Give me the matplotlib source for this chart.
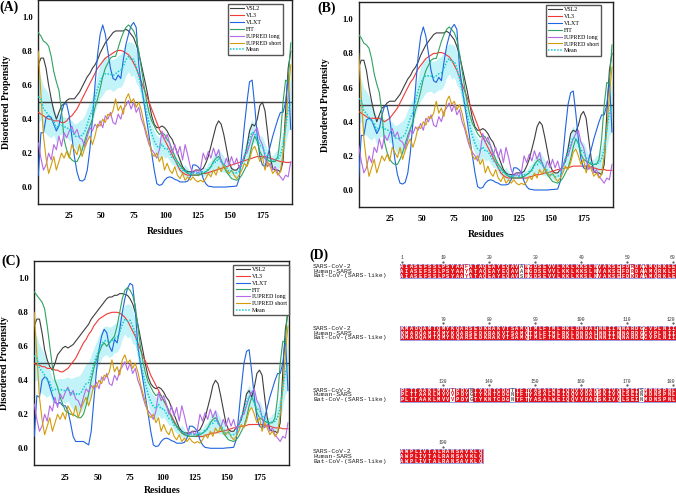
import numpy as np
import matplotlib.pyplot as plt

plt.rcParams['font.family'] = ['Liberation Serif', 'DejaVu Serif']

# residue grid (every second residue of the 198-aa protein)
residues = np.arange(1, 198, 2)

# ---- predictor outputs, panel A (SARS-CoV-2) ----
vsl2_a = [0.72, 0.76, 0.76, 0.70, 0.60, 0.52, 0.45, 0.40, 0.44, 0.48,
          0.49, 0.51, 0.52, 0.52, 0.52, 0.54, 0.56, 0.59, 0.62, 0.65,
          0.67, 0.70, 0.72, 0.75, 0.79, 0.82, 0.85, 0.87, 0.89, 0.91,
          0.92, 0.92, 0.92, 0.92, 0.93, 0.92, 0.90, 0.88, 0.84, 0.79,
          0.72, 0.65, 0.58, 0.50, 0.42, 0.37, 0.35, 0.35, 0.36, 0.35,
          0.33, 0.30, 0.28, 0.24, 0.20, 0.16, 0.12, 0.10, 0.09, 0.09,
          0.09, 0.10, 0.10, 0.10, 0.11, 0.14, 0.18, 0.24, 0.30, 0.36,
          0.39, 0.37, 0.31, 0.23, 0.15, 0.11, 0.10, 0.10, 0.12, 0.14,
          0.17, 0.24, 0.33, 0.37, 0.36, 0.40, 0.48, 0.50, 0.45, 0.32,
          0.18, 0.11, 0.10, 0.10, 0.09, 0.15, 0.45, 0.70, 0.80]
vl3_a = [0.44, 0.43, 0.42, 0.41, 0.40, 0.40, 0.39, 0.39, 0.39, 0.38,
         0.38, 0.39, 0.41, 0.42, 0.44, 0.46, 0.49, 0.52, 0.55, 0.58,
         0.61, 0.64, 0.67, 0.70, 0.72, 0.74, 0.76, 0.77, 0.78, 0.79,
         0.80, 0.805, 0.805, 0.80, 0.79, 0.78, 0.76, 0.73, 0.70, 0.66,
         0.62, 0.58, 0.54, 0.50, 0.46, 0.42, 0.38, 0.34, 0.31, 0.28,
         0.25, 0.22, 0.19, 0.16, 0.13, 0.10, 0.085, 0.075, 0.07, 0.07,
         0.07, 0.07, 0.07, 0.075, 0.08, 0.08, 0.085, 0.09, 0.095, 0.10,
         0.105, 0.11, 0.115, 0.12, 0.125, 0.13, 0.135, 0.14, 0.145, 0.15,
         0.155, 0.16, 0.165, 0.17, 0.175, 0.18, 0.18, 0.18, 0.18, 0.175,
         0.17, 0.165, 0.16, 0.155, 0.15, 0.15, 0.145, 0.145, 0.145]
vlxt_a = [0.07, 0.32, 0.32, 0.41, 0.42, 0.41, 0.37, 0.33, 0.36, 0.44,
          0.49, 0.49, 0.42, 0.30, 0.18, 0.09, 0.04, 0.035, 0.045, 0.10,
          0.22, 0.40, 0.60, 0.78, 0.90, 0.955, 0.90, 0.80, 0.70, 0.64,
          0.63, 0.66, 0.64, 0.75, 0.84, 0.90, 0.95, 0.97, 0.94, 0.72,
          0.60, 0.50, 0.40, 0.30, 0.20, 0.10, 0.02, 0.01, 0.015, 0.04,
          0.055, 0.06, 0.055, 0.045, 0.04, 0.03, 0.03, 0.03, 0.035, 0.06,
          0.13, 0.13, 0.12, 0.10, 0.05, 0.02, 0.005, 0.003, 0.0, 0.0,
          0.0, 0.0, 0.0, 0.0, 0.002, 0.003, 0.004, 0.006, 0.05, 0.20,
          0.36, 0.50, 0.62, 0.63, 0.48, 0.30, 0.18, 0.13, 0.12, 0.18,
          0.24, 0.30, 0.35, 0.40, 0.44, 0.44, 0.50, 0.65, 0.34]
fit_a = [0.91, 0.89, 0.86, 0.85, 0.83, 0.77, 0.68, 0.62, 0.57, 0.45,
         0.28, 0.22, 0.18, 0.16, 0.15, 0.15, 0.18, 0.22, 0.27, 0.32,
         0.36, 0.40, 0.47, 0.52, 0.58, 0.65, 0.70, 0.73, 0.76, 0.77,
         0.77, 0.82, 0.87, 0.91, 0.94, 0.955, 0.94, 0.92, 0.88, 0.80,
         0.70, 0.60, 0.51, 0.44, 0.39, 0.36, 0.33, 0.31, 0.32, 0.31,
         0.28, 0.26, 0.22, 0.18, 0.15, 0.13, 0.11, 0.09, 0.08, 0.075,
         0.07, 0.07, 0.07, 0.075, 0.08, 0.09, 0.10, 0.12, 0.15, 0.17,
         0.18, 0.16, 0.12, 0.09, 0.07, 0.05, 0.045, 0.04, 0.05, 0.07,
         0.10, 0.13, 0.18, 0.25, 0.30, 0.27, 0.21, 0.18, 0.17, 0.16,
         0.15, 0.15, 0.15, 0.18, 0.30, 0.50, 0.63, 0.62, 0.85]
iupred_long = [0.26, 0.17, 0.10, 0.13, 0.20, 0.16, 0.25, 0.22, 0.30, 0.24,
               0.32, 0.29, 0.33, 0.36, 0.31, 0.34, 0.29, 0.28, 0.24, 0.30,
               0.35, 0.33, 0.37, 0.35, 0.39, 0.35, 0.42, 0.40, 0.44, 0.38,
               0.37, 0.43, 0.40, 0.46, 0.48, 0.51, 0.46, 0.50, 0.44, 0.47,
               0.40, 0.36, 0.30, 0.25, 0.22, 0.20, 0.17, 0.22, 0.33, 0.28,
               0.31, 0.26, 0.20, 0.25, 0.19, 0.24, 0.16, 0.25, 0.19, 0.12,
               0.08, 0.10, 0.08, 0.11, 0.20, 0.16, 0.21, 0.17, 0.23, 0.18,
               0.22, 0.15, 0.12, 0.17, 0.13, 0.18, 0.13, 0.17, 0.11, 0.14,
               0.19, 0.20, 0.25, 0.30, 0.33, 0.35, 0.28, 0.25, 0.18, 0.12,
               0.14, 0.10, 0.12, 0.08, 0.06, 0.04, 0.07, 0.06, 0.15]
iupred_short = [0.80, 0.55, 0.30, 0.17, 0.08, 0.13, 0.18, 0.10, 0.15, 0.20,
                0.17, 0.21, 0.17, 0.25, 0.22, 0.19, 0.25, 0.18, 0.23, 0.27,
                0.30, 0.25, 0.30, 0.37, 0.36, 0.40, 0.38, 0.43, 0.42, 0.45,
                0.52, 0.45, 0.48, 0.43, 0.52, 0.55, 0.50, 0.52, 0.47, 0.50,
                0.45, 0.38, 0.32, 0.27, 0.20, 0.18, 0.20, 0.15, 0.18, 0.10,
                0.14, 0.10, 0.08, 0.12, 0.07, 0.05, 0.08, 0.04, 0.06, 0.04,
                0.06, 0.04, 0.03, 0.04, 0.03, 0.05, 0.08, 0.06, 0.10, 0.07,
                0.12, 0.09, 0.13, 0.10, 0.08, 0.10, 0.07, 0.05, 0.07, 0.10,
                0.14, 0.12, 0.16, 0.22, 0.24, 0.20, 0.15, 0.18, 0.10, 0.15,
                0.12, 0.08, 0.10, 0.07, 0.09, 0.20, 0.35, 0.55, 0.72]

# ---- panel B (Human SARS) ----
vsl2_b = [0.72, 0.76, 0.76, 0.70, 0.60, 0.52, 0.45, 0.40, 0.44, 0.48,
          0.49, 0.51, 0.52, 0.52, 0.52, 0.54, 0.56, 0.59, 0.62, 0.65,
          0.67, 0.70, 0.72, 0.75, 0.79, 0.82, 0.85, 0.87, 0.89, 0.91,
          0.92, 0.92, 0.92, 0.92, 0.93, 0.92, 0.90, 0.88, 0.84, 0.79,
          0.72, 0.65, 0.58, 0.50, 0.42, 0.37, 0.35, 0.35, 0.36, 0.35,
          0.33, 0.30, 0.28, 0.24, 0.20, 0.16, 0.12, 0.10, 0.09, 0.09,
          0.09, 0.10, 0.10, 0.10, 0.11, 0.14, 0.18, 0.24, 0.30, 0.37,
          0.40, 0.38, 0.31, 0.23, 0.15, 0.11, 0.10, 0.10, 0.12, 0.14,
          0.17, 0.24, 0.33, 0.35, 0.34, 0.38, 0.44, 0.46, 0.42, 0.30,
          0.18, 0.11, 0.10, 0.10, 0.09, 0.15, 0.45, 0.70, 0.80]
vl3_b = [0.46, 0.45, 0.44, 0.43, 0.42, 0.42, 0.42, 0.42, 0.42, 0.41,
         0.40, 0.41, 0.42, 0.44, 0.46, 0.48, 0.51, 0.54, 0.57, 0.60,
         0.63, 0.65, 0.68, 0.71, 0.73, 0.75, 0.77, 0.78, 0.79, 0.80,
         0.80, 0.805, 0.805, 0.80, 0.79, 0.78, 0.76, 0.73, 0.70, 0.66,
         0.62, 0.58, 0.54, 0.50, 0.46, 0.42, 0.38, 0.34, 0.31, 0.28,
         0.25, 0.22, 0.19, 0.16, 0.13, 0.10, 0.085, 0.075, 0.07, 0.07,
         0.07, 0.07, 0.07, 0.07, 0.07, 0.07, 0.075, 0.08, 0.085, 0.09,
         0.09, 0.095, 0.10, 0.10, 0.105, 0.11, 0.115, 0.12, 0.12, 0.125,
         0.13, 0.13, 0.135, 0.14, 0.14, 0.14, 0.14, 0.14, 0.14, 0.135,
         0.13, 0.13, 0.125, 0.12, 0.12, 0.12, 0.115, 0.115, 0.115]
vlxt_b = [0.07, 0.32, 0.32, 0.41, 0.42, 0.41, 0.37, 0.33, 0.36, 0.44,
          0.49, 0.49, 0.42, 0.30, 0.18, 0.09, 0.04, 0.035, 0.045, 0.10,
          0.22, 0.40, 0.60, 0.78, 0.90, 0.955, 0.90, 0.80, 0.70, 0.64,
          0.63, 0.66, 0.64, 0.75, 0.84, 0.90, 0.95, 0.97, 0.94, 0.72,
          0.60, 0.50, 0.40, 0.30, 0.20, 0.10, 0.02, 0.01, 0.015, 0.04,
          0.055, 0.06, 0.055, 0.045, 0.04, 0.03, 0.03, 0.03, 0.035, 0.06,
          0.13, 0.13, 0.12, 0.10, 0.05, 0.02, 0.005, 0.003, 0.0, 0.0,
          0.0, 0.0, 0.0, 0.0, 0.002, 0.003, 0.004, 0.006, 0.05, 0.20,
          0.36, 0.50, 0.57, 0.58, 0.45, 0.30, 0.18, 0.13, 0.12, 0.18,
          0.24, 0.30, 0.35, 0.40, 0.44, 0.44, 0.50, 0.65, 0.34]

# ---- panel C (Bat SARS-like CoV) ----
vsl2_c = [0.72, 0.76, 0.76, 0.68, 0.58, 0.52, 0.48, 0.46, 0.50, 0.55,
          0.57, 0.59, 0.60, 0.59, 0.60, 0.61, 0.63, 0.65, 0.67, 0.69,
          0.71, 0.73, 0.76, 0.78, 0.80, 0.82, 0.84, 0.86, 0.88, 0.89,
          0.89, 0.90, 0.90, 0.91, 0.91, 0.905, 0.90, 0.88, 0.85, 0.80,
          0.73, 0.65, 0.57, 0.49, 0.42, 0.38, 0.36, 0.35, 0.36, 0.35,
          0.33, 0.30, 0.28, 0.24, 0.20, 0.16, 0.12, 0.10, 0.09, 0.09,
          0.09, 0.10, 0.10, 0.10, 0.11, 0.14, 0.18, 0.24, 0.30, 0.37,
          0.40, 0.38, 0.31, 0.23, 0.15, 0.11, 0.10, 0.10, 0.12, 0.14,
          0.17, 0.24, 0.32, 0.34, 0.30, 0.36, 0.44, 0.46, 0.43, 0.30,
          0.18, 0.11, 0.10, 0.10, 0.09, 0.15, 0.45, 0.70, 0.80]
vl3_c = [0.50, 0.49, 0.49, 0.48, 0.48, 0.47, 0.47, 0.47, 0.46, 0.46,
         0.45, 0.45, 0.46, 0.47, 0.49, 0.51, 0.53, 0.56, 0.59, 0.62,
         0.64, 0.67, 0.69, 0.72, 0.74, 0.76, 0.77, 0.78, 0.79, 0.795,
         0.80, 0.80, 0.80, 0.795, 0.785, 0.77, 0.75, 0.72, 0.69, 0.66,
         0.62, 0.58, 0.54, 0.51, 0.47, 0.43, 0.40, 0.37, 0.34, 0.31,
         0.28, 0.25, 0.22, 0.19, 0.16, 0.13, 0.11, 0.09, 0.08, 0.075,
         0.07, 0.07, 0.07, 0.07, 0.07, 0.07, 0.075, 0.08, 0.085, 0.09,
         0.09, 0.095, 0.10, 0.10, 0.105, 0.11, 0.115, 0.12, 0.12, 0.125,
         0.13, 0.13, 0.135, 0.14, 0.14, 0.14, 0.14, 0.14, 0.14, 0.135,
         0.13, 0.13, 0.125, 0.12, 0.12, 0.12, 0.115, 0.115, 0.115]
vlxt_c = [0.07, 0.31, 0.30, 0.40, 0.42, 0.41, 0.36, 0.31, 0.27, 0.26,
          0.27, 0.25, 0.25, 0.22, 0.15, 0.07, 0.04, 0.04, 0.04, 0.04,
          0.03, 0.02, 0.10, 0.28, 0.45, 0.58, 0.66, 0.70, 0.68, 0.60,
          0.57, 0.64, 0.62, 0.70, 0.80, 0.88, 0.94, 0.97, 0.96, 0.82,
          0.60, 0.50, 0.40, 0.30, 0.20, 0.10, 0.02, 0.01, 0.015, 0.04,
          0.055, 0.06, 0.055, 0.045, 0.04, 0.03, 0.03, 0.03, 0.035, 0.06,
          0.13, 0.13, 0.12, 0.10, 0.05, 0.02, 0.005, 0.003, 0.0, 0.0,
          0.0, 0.0, 0.0, 0.0, 0.002, 0.003, 0.004, 0.006, 0.05, 0.20,
          0.36, 0.50, 0.57, 0.58, 0.45, 0.30, 0.18, 0.13, 0.12, 0.18,
          0.24, 0.30, 0.35, 0.40, 0.44, 0.44, 0.50, 0.65, 0.34]
fit_c = [0.92, 0.90, 0.88, 0.86, 0.82, 0.72, 0.60, 0.48, 0.40, 0.36,
         0.30, 0.26, 0.22, 0.21, 0.20, 0.20, 0.19, 0.18, 0.18, 0.20,
         0.25, 0.32, 0.40, 0.47, 0.52, 0.56, 0.60, 0.62, 0.60, 0.62,
         0.64, 0.66, 0.72, 0.80, 0.88, 0.93, 0.945, 0.93, 0.90, 0.84,
         0.72, 0.60, 0.51, 0.44, 0.39, 0.36, 0.33, 0.31, 0.32, 0.31,
         0.28, 0.26, 0.22, 0.18, 0.15, 0.13, 0.11, 0.09, 0.08, 0.075,
         0.07, 0.07, 0.07, 0.075, 0.08, 0.09, 0.10, 0.12, 0.15, 0.17,
         0.18, 0.16, 0.12, 0.09, 0.07, 0.05, 0.045, 0.04, 0.05, 0.07,
         0.10, 0.13, 0.18, 0.25, 0.30, 0.27, 0.21, 0.18, 0.17, 0.16,
         0.15, 0.15, 0.15, 0.18, 0.30, 0.50, 0.63, 0.62, 0.85]

series_names = ['VSL2', 'VL3', 'VLXT', 'FIT', 'IUPRED long', 'IUPRED short']
series_colors = ['#3d3d3d', '#ef3b36', '#1f64e0', '#2fa35f', '#b46ae4', '#d29c0c']

panel_data = {
    'A': [vsl2_a, vl3_a, vlxt_a, fit_a, iupred_long, iupred_short],
    'B': [vsl2_b, vl3_b, vlxt_b, fit_a, iupred_long, iupred_short],
    'C': [vsl2_c, vl3_c, vlxt_c, fit_c, iupred_long, iupred_short],
}

# ---- sequence alignment (panel D) ----
seq_names = ['SARS-CoV-2', 'Human-SARS', 'Bat-CoV-(SARS-like)']
seq_sars2 = ("AIASEFSSLPSYAAFATAQEAYEQAVANGDSEVVLKKLKKSLNVAKSEFDRDAAMQRKLE"
             "KMADQAMTQMYKQARSEDKRAKVTSAMQTMLFTMLRKLDNDALNNIINNARDGCVPLNII"
             "PLTTAAKLMVVIPDYNTYKNTCDGTTFTYASALWEIQQVVDADSKIVQLSEISMDNSPNL"
             "AWPLIVTALRANSAVKLQ")
seq_human = ("AIASEFSSLPSYAAYATAQEAYEQAVANGDSEVVLKKLKKSLNVAKSEFDRDAAMQRKLE"
             "KMADQAMTQMYKQARSEDKRAKVTSAMQTMLFTMLRKLDNDALNNIINNARDGCVPLNII"
             "PLTTAAKLMVVVPDYGTYKNTCDGNTFTYASALWEIQQVVDADSKIVQLSEINMDNSPNL"
             "AWPLIVTALRANSAVKLQ")
seq_bat = ("AIASEFSSLPSYAAYATAQEAYEQAVSNGDSEVVLKKLKKSLNVAKSEFDKDAAMQRKLE"
           "KMADQAMTQMYKQARSEDKRAKVTSAMQTMLFTMLRKLDNDALNNIINNARDGCVPLNII"
           "PLTTAAKLMVVVPDYGTYKNTCDGNTFTYASALWEIQQVVDADSKIVQLSEINMDNSPNL"
           "AWPLIVTALRANSAVKLQ")
similar_groups = ['FYW', 'KR', 'ILVM', 'ST', 'NQ', 'DE']

fig = plt.figure(figsize=(6.76, 4.96), dpi=100)

axes_rect = {'A': [0.0567, 0.5887, 0.3753, 0.4105],
             'B': [0.5306, 0.5825, 0.3766, 0.4131],
             'C': [0.0507, 0.0619, 0.3772, 0.4113]}
legend_anchor = {'A': (0.965, 0.982), 'B': (0.952, 0.986), 'C': (0.998, 0.983)}
ylabel_x = {'A': -0.127, 'B': -0.132, 'C': -0.115}
xlabel_y = {'A': -0.137, 'B': -0.133, 'C': -0.125}

for key in ['A', 'B', 'C']:
    ax = fig.add_axes(axes_rect[key])
    data = np.array(panel_data[key])
    mean = data.mean(axis=0)
    spread = data.std(axis=0) * 0.5
    ax.fill_between(residues, mean - spread, mean + spread, color='#c2f3f8',
                    lw=0, zorder=1)
    ax.axhline(0.5, color='#404040', lw=1.0, zorder=2)
    for vals, name, col in zip(panel_data[key], series_names, series_colors):
        ax.plot(residues, vals, color=col, lw=0.8, label=name, zorder=3)
    ax.plot(residues, mean, color='#12c9cf', lw=1.1, ls=(0, (1, 1)),
            label='Mean', zorder=4)

    ax.set_xlim(1, 198)
    ax.set_ylim(-0.1, 1.1)
    ax.set_xticks([25, 50, 75, 100, 125, 150, 175])
    ax.set_yticks([0.0, 0.2, 0.4, 0.6, 0.8, 1.0])
    ax.set_yticklabels(['0.0', '0.2', '0.4', '0.6', '0.8', '1.0'])
    ax.tick_params(length=0, labelsize=6.2)
    ax.tick_params(axis='x', pad=6)
    ax.tick_params(axis='y', pad=4)
    for lab in ax.get_xticklabels() + ax.get_yticklabels():
        lab.set_fontweight('bold')
    for sp in ax.spines.values():
        sp.set_color('#222222')
        sp.set_linewidth(1.0)
    ax.set_xlabel('Residues', fontsize=7, fontweight='bold', va='center')
    ax.xaxis.set_label_coords(0.5, xlabel_y[key])
    ax.set_ylabel('Disordered Propensity', fontsize=7, fontweight='bold', va='center')
    ax.yaxis.set_label_coords(ylabel_x[key], 0.5)

    ax.legend(loc='upper right', bbox_to_anchor=legend_anchor[key],
              borderaxespad=0, fontsize=4.3, handlelength=2.4,
              labelspacing=0.28, borderpad=0.35, handletextpad=0.3,
              fancybox=False, framealpha=1, edgecolor='#555555')

# overlay in pixel units for panel letters and the alignment
ov = fig.add_axes([0, 0, 1, 1])
ov.set_xlim(0, 676)
ov.set_ylim(496, 0)
ov.axis('off')

for letter, (px, py) in {'(A)': (9.5, 7), '(B)': (327, 8),
                         '(C)': (11, 261.5), '(D)': (319, 255)}.items():
    ov.text(px, py, letter, fontsize=10, fontweight='bold', ha='center', va='center')

seqs = [seq_sars2, seq_human, seq_bat]
cw, rh = 4.6, 4.67
x0, top0, block_gap = 399.7, 264.3, 61.7
red = '#e3141c'
for b in range(4):
    start = b * 60
    stop = min(start + 60, len(seq_sars2))
    top = top0 + b * block_gap
    n = stop - start
    xs = x0 + (np.arange(n) + 0.5) * cw
    cols = [''.join(s[i] for s in seqs) for i in range(start, stop)]
    conserved = np.array([len(set(c)) == 1 for c in cols])
    ov.bar(xs[conserved], 3 * rh, bottom=top, width=cw, color=red, lw=0)
    ov.add_patch(plt.Rectangle((x0, top), n * cw, 3 * rh, fill=False,
                               ec='#8a8ad8', lw=0.6))
    for r, (name, s) in enumerate(zip(seq_names, seqs)):
        yc = top + (r + 0.5) * rh
        ov.text(313, yc, name, fontsize=4.6, family='Liberation Mono',
                ha='left', va='center', color='#222222')
        for i in range(n):
            c = cols[i]
            if conserved[i]:
                tc = 'white'
            elif any(set(c) <= set(g) for g in similar_groups):
                tc = red
            else:
                tc = '#555555'
            ov.text(xs[i], yc + 0.2, s[start + i], fontsize=3.9,
                    family='Liberation Mono', fontweight='bold',
                    ha='center', va='center', color=tc)
    for i in range(n):
        pos = start + i + 1
        if pos == 1 or pos % 10 == 0:
            last = (i == 59)
            ov.text(xs[i] + (2.2 if last else 0), top - 6.6, str(pos),
                    fontsize=3.4, family='Liberation Mono',
                    ha='right' if last else 'center', va='center',
                    color='#333333')
            ov.plot(xs[i], top - 2.6, marker='.', ms=1.2, color='#555555')

fig.savefig('out.png', dpi=100)
